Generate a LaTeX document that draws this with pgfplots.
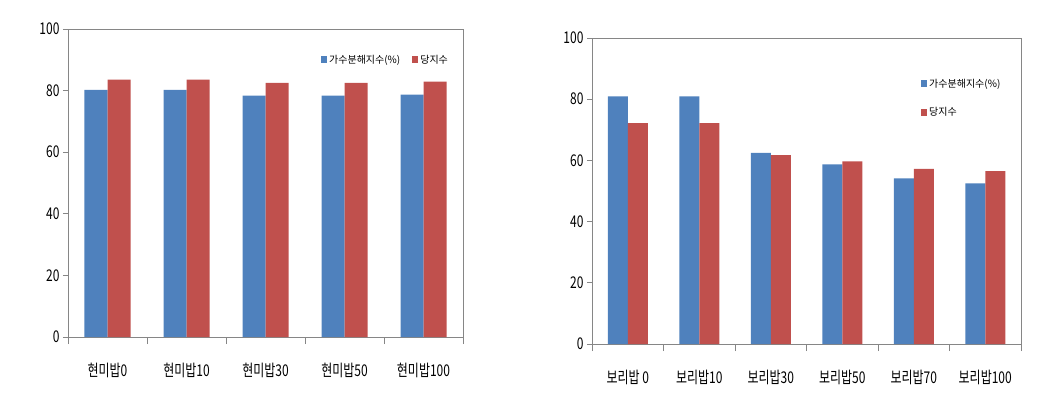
\documentclass[border=0pt]{standalone}
\usepackage{fontspec}
\setmainfont{Noto Sans CJK KR}
\usepackage{pgfplots}
\pgfplotsset{compat=1.18}
\definecolor{barblue}{HTML}{4F81BD}
\definecolor{barred}{HTML}{C0504D}
\definecolor{axgray}{HTML}{868686}
\pgfplotsset{mystyle/.style={
  scale only axis, ybar=0pt, ymin=0, ymax=100, ytick={0,20,...,100},
  axis line style={axgray, line width=0.7pt},
  tick style={axgray, line width=0.7pt},
  tick align=outside, major tick length=5pt, minor tick length=7pt,
  xtick pos=bottom, ytick pos=left,
  xtick=data, major x tick style={draw=none},
  /pgf/number format/assume math mode=true,
  tick label style={font=\fontsize{12}{14}\selectfont, yscale=1.35},
  xticklabel style={yshift=-12pt},
  legend cell align=left,
  legend style={draw=none, fill=none, font=\fontsize{10}{12}\selectfont},
}}
\begin{document}
\begin{tikzpicture}
\path[use as bounding box] (0,0) rectangle (1047pt,-402pt);
\begin{axis}[mystyle,
  at={(68pt,-337pt)}, anchor=south west, width=395pt, height=308pt,
  xmin=-0.5, xmax=4.5, bar width=23pt,
  xticklabels={현미밥0,현미밥10,현미밥30,현미밥50,현미밥100},
  minor xtick={-0.5,0.5,...,4.5},
  legend columns=2,
  legend style={at={(0.975,0.90)}, anchor=east, /tikz/every even column/.append style={column sep=10pt}},
]
\addplot[fill=barblue, draw=none, legend image code/.code={\fill[barblue] (0pt,-3.5pt) rectangle (6pt,3.5pt);}] coordinates {(0,80.2) (1,80.2) (2,78.4) (3,78.4) (4,78.7)};
\addplot[fill=barred, draw=none, legend image code/.code={\fill[barred] (0pt,-3.5pt) rectangle (6pt,3.5pt);}] coordinates {(0,83.6) (1,83.6) (2,82.5) (3,82.5) (4,82.9)};
\legend{가수분해지수(\%),당지수}
\end{axis}
\begin{axis}[mystyle,
  at={(592pt,-344pt)}, anchor=south west, width=429pt, height=306pt,
  xmin=-0.5, xmax=5.5, bar width=20pt,
  xticklabels={보리밥 0,보리밥10,보리밥30,보리밥50,보리밥70,보리밥100},
  minor xtick={-0.5,0.5,...,5.5},
  legend style={at={(0.76,0.88)}, anchor=north west, row sep=15pt},
]
\addplot[fill=barblue, draw=none, legend image code/.code={\fill[barblue] (0pt,-3.5pt) rectangle (6pt,3.5pt);}] coordinates {(0,80.9) (1,80.9) (2,62.5) (3,58.7) (4,54.1) (5,52.5)};
\addplot[fill=barred, draw=none, legend image code/.code={\fill[barred] (0pt,-3.5pt) rectangle (6pt,3.5pt);}] coordinates {(0,72.2) (1,72.2) (2,61.7) (3,59.7) (4,57.2) (5,56.5)};
\legend{가수분해지수(\%),당지수}
\end{axis}
\end{tikzpicture}
\end{document}
